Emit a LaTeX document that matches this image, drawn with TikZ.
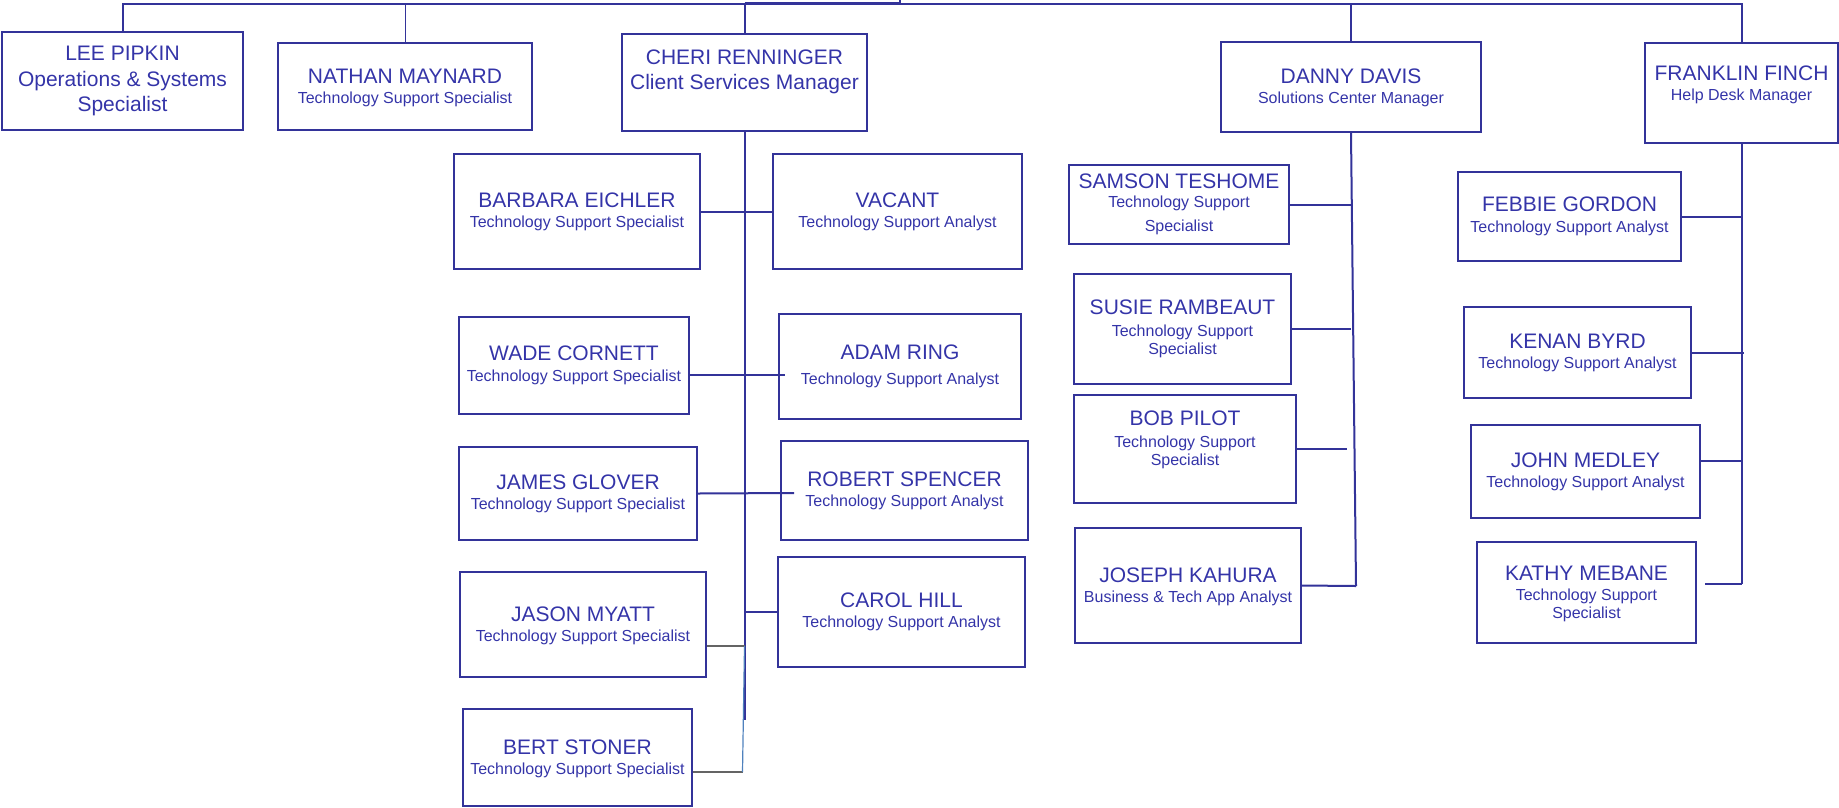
\documentclass[tikz,border=0pt]{standalone}
\usepackage{fontspec}
\setmainfont{Liberation Sans}
\usetikzlibrary{calc}

\definecolor{orgblue}{RGB}{51,51,153}
\definecolor{orgtext}{RGB}{52,52,168}
\definecolor{linkgray}{RGB}{100,100,100}
\definecolor{linkblue}{RGB}{79,129,189}

\newcommand\roletext[1]{{\fontsize{16}{18}\selectfont #1}}

\tikzset{
	box/.style={draw=orgblue, line width=2pt, rectangle, inner sep=0pt},
	txt/.style={text=orgtext, align=center, inner sep=0pt, font=\fontsize{21}{20}\selectfont},
	link/.style={draw=orgblue, line width=2pt},
}

\begin{document}
\begin{tikzpicture}[x=1pt, y=-1pt]
	\useasboundingbox (0,0) rectangle (1839,807);

	% --- draw the boxes
	% id / centre x / centre y / width / height
	\foreach \id/\cx/\cy/\w/\h in {
		lee/122.5/81/241/98,
		nathan/405/86.5/254/87,
		cheri/744.5/82.5/245/97,
		barbara/577/211.5/246/115,
		vacant/897.5/211.5/249/115,
		wade/574/365.5/230/97,
		adam/900/366.5/242/105,
		james/578/493.5/238/93,
		robert/904.5/490.5/247/99,
		carol/901.5/612/247/110,
		jason/583/624.5/246/105,
		bert/577.5/757.5/229/97,
		danny/1351/87/260/90,
		samson/1179/204.5/220/79,
		susie/1182.5/329/217/110,
		bob/1185/449/222/108,
		joseph/1188/585.5/226/115,
		franklin/1741.5/93/193/100,
		febbie/1569.5/216.5/223/89,
		kenan/1577.5/352.5/227/91,
		john/1585.5/471.5/229/93,
		kathy/1586.5/592.5/219/101}
	\node[box, minimum width=\w pt, minimum height=\h pt] (\id) at (\cx,\cy) {};

	% --- names and titles
	\node[txt, font=\fontsize{21}{25.5}\selectfont] (lee-t) at (lee) {LEE PIPKIN\\Operations \& Systems\\Specialist};
	\node[txt, yshift=-1.5pt] (nathan-t) at (nathan) {NATHAN MAYNARD\\\roletext{Technology Support Specialist}};
	\node[txt, yshift=11pt, font=\fontsize{21}{25}\selectfont] (cheri-t) at (cheri) {CHERI RENNINGER\\Client Services Manager};

	\node[txt] (barbara-t) at (barbara) {BARBARA EICHLER\\\roletext{Technology Support Specialist}};
	\node[txt] (vacant-t) at (vacant) {VACANT\\\roletext{Technology Support Analyst}};
	\node[txt] (wade-t) at (wade) {WADE CORNETT\\[1.5pt]\roletext{Technology Support Specialist}};
	\node[txt] (adam-t) at (adam) {ADAM RING\\[5pt]\roletext{Technology Support Analyst}};
	\node[txt] (james-t) at (james) {JAMES GLOVER\\\roletext{Technology Support Specialist}};
	\node[txt] (robert-t) at (robert) {ROBERT SPENCER\\\roletext{Technology Support Analyst}};
	\node[txt] (carol-t) at (carol) {CAROL HILL\\\roletext{Technology Support Analyst}};
	\node[txt, yshift=-1.5pt] (jason-t) at (jason) {JASON MYATT\\\roletext{Technology Support Specialist}};
	\node[txt, yshift=-1.5pt] (bert-t) at (bert) {BERT STONER\\\roletext{Technology Support Specialist}};

	\node[txt, yshift=-1pt] (danny-t) at (danny) {DANNY DAVIS\\\roletext{Solutions Center Manager}};
	\node[txt] (samson-t) at (samson) {SAMSON TESHOME\\[-1.5pt]\roletext{Technology Support}\\[4pt]\roletext{Specialist}};
	\node[txt] (susie-t) at (susie) {SUSIE RAMBEAUT\\[1.5pt]\roletext{Technology Support}\\[-2pt]\roletext{Specialist}};
	\node[txt, yshift=9pt] (bob-t) at (bob) {BOB PILOT\\[1.5pt]\roletext{Technology Support}\\[-2pt]\roletext{Specialist}};
	\node[txt, yshift=-1.5pt] (joseph-t) at (joseph) {JOSEPH KAHURA\\\roletext{Business \& Tech App Analyst}};

	\node[txt, yshift=8.5pt] (franklin-t) at (franklin) {FRANKLIN FINCH\\\roletext{Help Desk Manager}};
	\node[txt] (febbie-t) at (febbie) {FEBBIE GORDON\\[1.5pt]\roletext{Technology Support Analyst}};
	\node[txt] (kenan-t) at (kenan) {KENAN BYRD\\\roletext{Technology Support Analyst}};
	\node[txt] (john-t) at (john) {JOHN MEDLEY\\\roletext{Technology Support Analyst}};
	\node[txt, yshift=-1.5pt] (kathy-t) at (kathy) {KATHY MEBANE\\\roletext{Technology Support}\\[-2pt]\roletext{Specialist}};

	% --- top bus
	\coordinate (bus) at (900,3.5);
	\coordinate (bustop) at (900,0);
	\draw[link] (lee.north) |- (bus) -| (franklin.north);
	\draw[link, line width=3.5pt] (cheri.north |- bus) -- (bus);
	\draw[link] (bus) -- (bustop);
	\draw[link, line width=1pt] (nathan.north) -- (nathan.north |- bus);
	\foreach \p in {cheri, danny}
		\draw[link] (\p.north) -- (\p.north |- bus);

	% --- client services
	\coordinate (cheriend) at (744.5,720);
	\draw[link] (cheri.south) -- (cheriend);
	\draw[link] (barbara.east) -- (vacant.west);
	\draw[link] ([yshift=-9.5pt]wade.east) -- ([yshift=-8.5pt, xshift=7pt]adam.west);
	\draw[link] (james.east) -- ([yshift=-2.5pt, xshift=14pt]robert.west);
	\draw[link] (carol.west) -- (carol.west -| cheri.south);
	\coordinate (jasonj) at ([yshift=-21.5pt]jason.east -| cheri.south);
	\coordinate (bertj) at ([yshift=-14.5pt, xshift=-2pt]bert.east -| cheri.south);
	\draw[linkgray, line width=2.5pt] ([yshift=-21.5pt]jason.east) -- (jasonj);
	\draw[linkgray, line width=2.5pt] ([yshift=-14.5pt]bert.east) -- (bertj);
	\draw[linkblue, line width=1.2pt] (jasonj) -- (bertj);

	% --- solutions center
	\coordinate (dannyend) at (1356,586);
	\draw[link] (danny.south) -- (dannyend);
	\draw[link] (samson.east) -- (samson.east -| danny.south);
	\draw[link] (susie.east) -- (susie.east -| danny.south);
	\draw[link] (bob.east) -- ([xshift=-4pt]bob.east -| danny.south);
	\draw[link] (joseph.east) -- (dannyend);

	% --- help desk
	\coordinate (franklinend) at ([yshift=8.5pt]kathy.east -| franklin.south);
	\draw[link] (franklin.south) -- (franklinend);
	\draw[link] (febbie.east) -- (febbie.east -| franklin.south);
	\draw[link] (kenan.east) -- ([xshift=2pt]kenan.east -| franklin.south);
	\draw[link] ([yshift=10.5pt]john.east) -- ([yshift=10.5pt]john.east -| franklin.south);
	\draw[link] ([xshift=8pt, yshift=8.5pt]kathy.east) -- (franklinend);
\end{tikzpicture}
\end{document}
